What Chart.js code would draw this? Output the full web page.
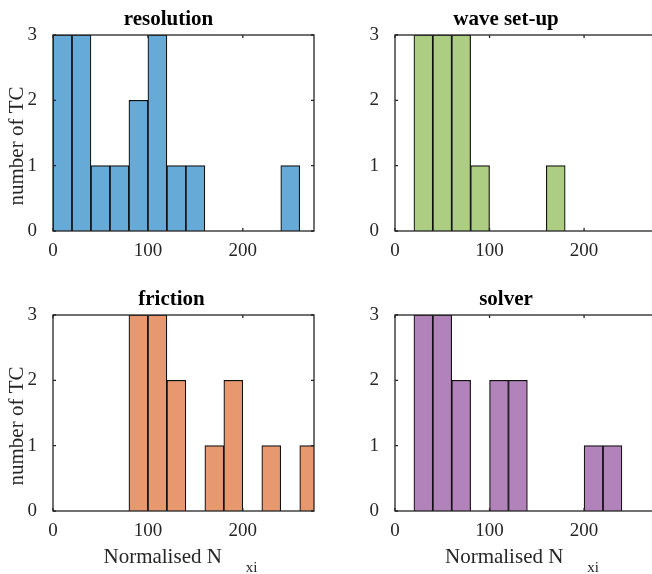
<!DOCTYPE html>
<html>
<head>
<meta charset="utf-8">
<script src="https://cdn.jsdelivr.net/npm/chart.js@4.4.1/dist/chart.umd.min.js"></script>
<style>
  html, body { margin: 0; padding: 0; background: #fff; }
  body { width: 652px; height: 574px; position: relative; overflow: hidden; }
  canvas { position: absolute; }
</style>
</head>
<body>
<canvas id="c1" width="326" height="270" style="left:0;top:0"></canvas>
<canvas id="c2" width="340" height="270" style="left:326px;top:0"></canvas>
<canvas id="c3" width="326" height="294" style="left:0;top:280px"></canvas>
<canvas id="c4" width="340" height="294" style="left:326px;top:280px"></canvas>
<script>
// histogram bins (normalised N_xi), width 20
const binEdges = [0, 20, 40, 60, 80, 100, 120, 140, 160, 180, 200, 220, 240, 260, 280];
const xTicks = [0, 100, 200];
const yTicks = [0, 1, 2, 3];

// counts per bin
const resolution = [3, 3, 1, 1, 2, 3, 1, 1, 0, 0, 0, 0, 1, 0];
const waveSetup  = [0, 3, 3, 3, 1, 0, 0, 0, 1, 0, 0, 0, 0, 0];
const friction   = [0, 0, 0, 0, 3, 3, 2, 0, 1, 2, 0, 1, 0, 1];
const solver     = [0, 3, 3, 2, 0, 2, 2, 0, 0, 0, 1, 1, 0, 0];

const titles = ['resolution', 'wave set-up', 'friction', 'solver'];
const colors = ['#66aad7', '#adcd83', '#e8986f', '#b282bb'];

const serif = '"Liberation Serif", "Times New Roman", serif';
const axisCol = '#262626';

function toBins(counts) {
    return counts.map((c, i) => ({
        x: (binEdges[i] + binEdges[i + 1]) / 2,
        y: c > 0 ? c : null
    }));
}

// frame, inward ticks and labels like matlab
const matlabAxes = {
    id: 'matlabAxes',
    afterDraw(chart) {
        const ctx = chart.ctx;
        const a = chart.chartArea;
        const xs = chart.scales.x, ys = chart.scales.y;
        const o = chart.options.plugins.matlabAxes;
        ctx.save();
        ctx.strokeStyle = axisCol;
        ctx.lineWidth = 1.3;
        ctx.beginPath();
        xTicks.forEach(v => {
            const px = xs.getPixelForValue(v);
            ctx.moveTo(px, a.bottom); ctx.lineTo(px, a.bottom - 3);
            ctx.moveTo(px, a.top); ctx.lineTo(px, a.top + 3);
        });
        yTicks.forEach(v => {
            const py = ys.getPixelForValue(v);
            ctx.moveTo(a.left, py); ctx.lineTo(a.left + 3, py);
            ctx.moveTo(a.right, py); ctx.lineTo(a.right - 3, py);
        });
        ctx.stroke();
        ctx.strokeRect(a.left, a.top, a.right - a.left, a.bottom - a.top);

        const mid = (a.left + a.right) / 2;
        // title
        ctx.fillStyle = '#000';
        ctx.font = 'bold 21px ' + serif;
        ctx.textAlign = 'center';
        ctx.textBaseline = 'alphabetic';
        ctx.fillText(o.title, mid + o.titleShift, a.top - 10);

        ctx.fillStyle = axisCol;
        if (o.yLabel) {
            ctx.save();
            ctx.translate(a.left - 36, (a.top + a.bottom) / 2 + 13);
            ctx.rotate(-Math.PI / 2);
            ctx.font = '21px ' + serif;
            ctx.textAlign = 'center';
            ctx.textBaseline = 'middle';
            ctx.fillText('number of TC', 0, 0);
            ctx.restore();
        }
        if (o.xLabel) {
            ctx.font = '21px ' + serif;
            const main = 'Normalised N';
            const w1 = ctx.measureText(main).width;
            ctx.font = '15px ' + serif;
            const w2 = ctx.measureText('xi').width;
            const gap = 24;
            const x0 = mid - 3 - (w1 + gap + w2) / 2;
            ctx.textAlign = 'left';
            ctx.font = '21px ' + serif;
            ctx.fillText(main, x0, a.bottom + 52);
            ctx.font = '15px ' + serif;
            ctx.fillText('xi', x0 + w1 + gap, a.bottom + 61);
        }
        ctx.restore();
    }
};

function makeChart(id, counts, idx, cfg) {
    new Chart(document.getElementById(id), {
        type: 'bar',
        data: {
            datasets: [{
                data: toBins(counts),
                backgroundColor: colors[idx],
                borderColor: '#111',
                borderWidth: 1.2,
                barPercentage: 1,
                categoryPercentage: 1
            }]
        },
        options: {
            responsive: false,
            animation: false,
            devicePixelRatio: 1,
            layout: { padding: { top: 35, right: cfg.padRight, bottom: cfg.padBottom, left: 0 } },
            plugins: {
                legend: { display: false },
                tooltip: { enabled: false },
                matlabAxes: {
                    title: titles[idx],
                    titleShift: cfg.titleShift,
                    yLabel: cfg.yLabel,
                    xLabel: cfg.xLabel
                }
            },
            scales: {
                x: {
                    type: 'linear',
                    min: 0,
                    max: 275,
                    offset: false,
                    grid: { display: false },
                    border: { display: false },
                    afterBuildTicks: s => { s.ticks = xTicks.map(v => ({ value: v })); },
                    afterFit: s => { s.height = 39; },
                    ticks: {
                        color: axisCol,
                        padding: 1,
                        maxRotation: 0,
                        font: { family: serif, size: 19 }
                    }
                },
                y: {
                    min: 0,
                    max: 3,
                    grid: { display: false },
                    border: { display: false },
                    afterBuildTicks: s => { s.ticks = yTicks.map(v => ({ value: v })); },
                    afterFit: s => { s.width = cfg.yWidth; },
                    ticks: {
                        color: axisCol,
                        padding: 8,
                        font: { family: serif, size: 19 }
                    }
                }
            }
        },
        plugins: [matlabAxes]
    });
}

makeChart('c1', resolution, 0, { yWidth: 53, padRight: 12, padBottom: 0, titleShift: -15, yLabel: true, xLabel: false });
makeChart('c2', waveSetup, 1, { yWidth: 69, padRight: 11, padBottom: 0, titleShift: -19, yLabel: false, xLabel: false });
makeChart('c3', friction, 2, { yWidth: 53, padRight: 12, padBottom: 24, titleShift: -12, yLabel: true, xLabel: true });
makeChart('c4', solver, 3, { yWidth: 69, padRight: 11, padBottom: 24, titleShift: -19, yLabel: false, xLabel: true });
</script>
</body>
</html>
